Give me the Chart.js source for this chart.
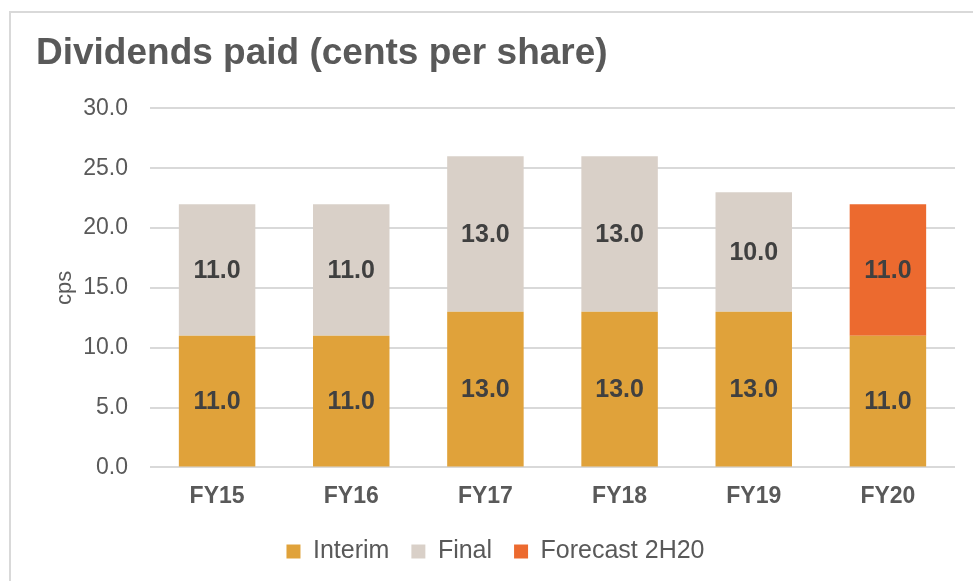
<!DOCTYPE html>
<html>
<head>
<meta charset="utf-8">
<script src="https://cdn.jsdelivr.net/npm/chart.js@4.4.1/dist/chart.umd.min.js"></script>
<style>
  html, body { margin: 0; padding: 0; background: #fff; }
  #wrap { position: relative; width: 973px; height: 581px; overflow: hidden; }
  #frame { position: absolute; left: 9px; top: 11px; width: 1000px; height: 600px;
           border-left: 2px solid #d9d9d9; border-top: 2px solid #d9d9d9; }
  canvas { position: absolute; left: 0; top: 0; }
</style>
</head>
<body>
<div id="wrap">
  <div id="frame"></div>
  <canvas id="myChart" width="973" height="581"></canvas>
</div>
<script>
var years = ["FY15", "FY16", "FY17", "FY18", "FY19", "FY20"];
var interim = [11, 11, 13, 13, 13, 11];
var final = [11, 11, 13, 13, 10, null];
var forecast = [null, null, null, null, null, 11];

var fontFamily = '"Liberation Sans", Arial, sans-serif';
var textGrey = '#595959';

// draws the value in the middle of each bar segment
var segmentLabels = {
    id: 'segmentLabels',
    afterDatasetsDraw(chart) {
        var ctx = chart.ctx;
        ctx.save();
        ctx.font = 'bold 25px ' + fontFamily;
        ctx.fillStyle = '#404040';
        ctx.textAlign = 'center';
        ctx.textBaseline = 'middle';
        chart.data.datasets.forEach((ds, i) => {
            var meta = chart.getDatasetMeta(i);
            meta.data.forEach((bar, j) => {
                var v = ds.data[j];
                if (v == null) return;
                ctx.fillText(v.toFixed(1), bar.x, (bar.y + bar.base) / 2 + 1);
            });
        });
        ctx.restore();
    }
};

var ctx = document.getElementById("myChart");
var myChart = new Chart(ctx, {
    type: 'bar',
    data: {
        labels: years,
        datasets: [{
            label: 'Interim',
            data: interim,
            backgroundColor: '#e0a23a',
        }, {
            label: 'Final',
            data: final,
            backgroundColor: '#d9d0c8',
        }, {
            label: 'Forecast 2H20',
            data: forecast,
            backgroundColor: '#ec6a2f',
        }],
    },
    options: {
        responsive: false,
        animation: false,
        layout: {
            padding: { left: 36, right: 18, top: 0, bottom: 7 },
        },
        datasets: {
            bar: {
                barPercentage: 0.57,
                categoryPercentage: 1,
            },
        },
        plugins: {
            title: {
                display: true,
                text: 'Dividends paid (cents per share)',
                align: 'start',
                color: textGrey,
                font: { family: fontFamily, size: 37, weight: 'bold' },
                padding: { top: 32, bottom: 32 },
            },
            legend: {
                position: 'bottom',
                labels: {
                    boxWidth: 14,
                    boxHeight: 14,
                    padding: 22,
                    color: textGrey,
                    font: { family: fontFamily, size: 25 },
                },
            },
            tooltip: { enabled: false },
        },
        scales: {
            x: {
                stacked: true,
                grid: { display: false },
                border: { display: false },
                ticks: {
                    color: textGrey,
                    padding: 7,
                    font: { family: fontFamily, size: 23, weight: 'bold' },
                },
            },
            y: {
                stacked: true,
                min: 0,
                max: 30,
                border: { display: false },
                grid: { color: '#d9d9d9', lineWidth: 2, drawTicks: false },
                ticks: {
                    stepSize: 5,
                    color: textGrey,
                    padding: 22,
                    font: { family: fontFamily, size: 23 },
                    callback: (v) => v.toFixed(1),
                },
                title: {
                    display: true,
                    text: 'cps',
                    color: textGrey,
                    font: { family: fontFamily, size: 22 },
                    padding: { top: 16, bottom: 0 },
                },
                afterFit: (scale) => { scale.width = 114; },
            },
        },
    },
    plugins: [segmentLabels],
});
</script>
</body>
</html>
